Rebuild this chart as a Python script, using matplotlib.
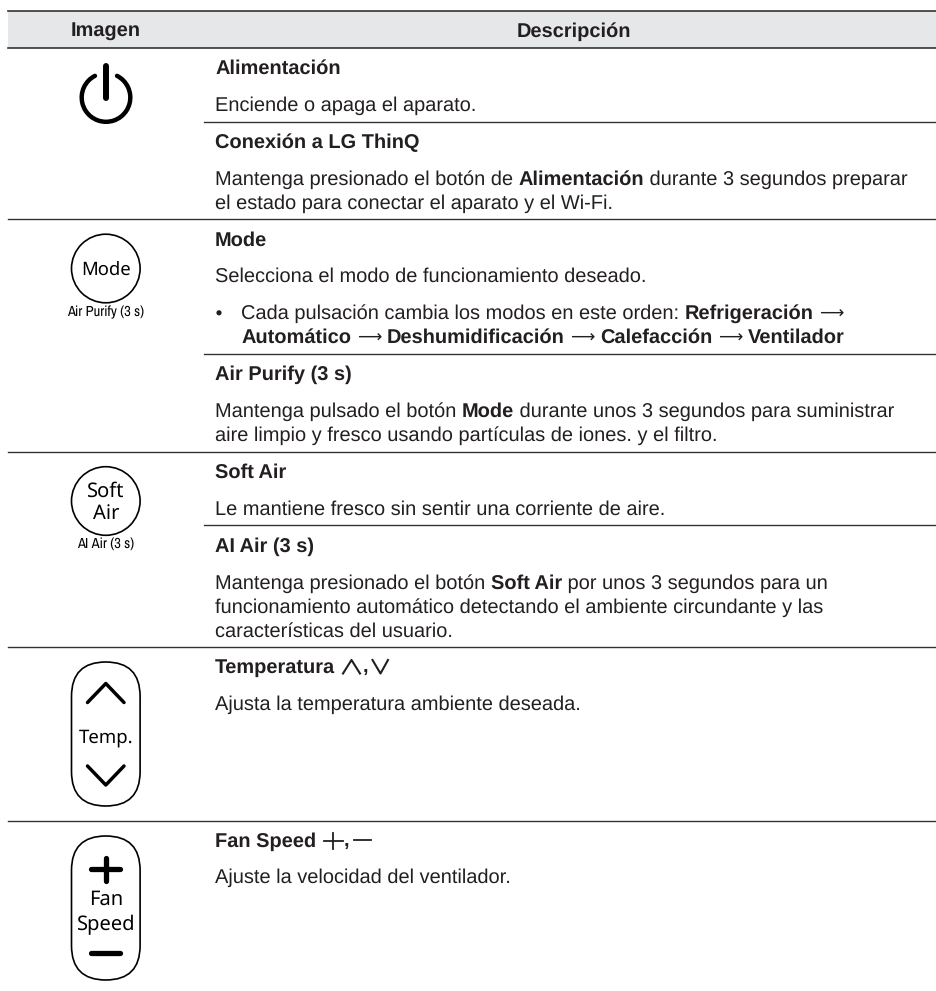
import numpy as np
import matplotlib
matplotlib.use("Agg")
import matplotlib.pyplot as plt
from matplotlib.patches import Arc, Circle, FancyBboxPatch, Rectangle

plt.rcParams["text.hinting"] = "none"
plt.rcParams["text.hinting_factor"] = 1

INK = "#231f20"
RULE = "#333333"
BODY = ["Liberation Sans", "DejaVu Sans"]
ICON = ["Noto Sans", "DejaVu Sans"]
NARROW = ["Archivo Narrow", "Roboto"]
ARROW = "\u27f6"
BODY_SIZE = 14.6

header_labels = ["Imagen", "Descripción"]
header_centers = [105.5, 574]

# baseline y, then (text, bold) runs
plain_lines = [
    (74, [("Alimentación", True)]),
    (111, [("Enciende o apaga el aparato.", False)]),
    (148, [("Conexión a LG ThinQ", True)]),
    (185, [("Mantenga presionado el botón de ", False), ("Alimentación", True), (" durante 3 segundos preparar", False)]),
    (209, [("el estado para conectar el aparato y el Wi-Fi.", False)]),
    (246, [("Mode", True)]),
    (282, [("Selecciona el modo de funcionamiento deseado.", False)]),
    (380, [("Air Purify (3 s)", True)]),
    (417, [("Mantenga pulsado el botón ", False), ("Mode", True), (" durante unos 3 segundos para suministrar", False)]),
    (441, [("aire limpio y fresco usando partículas de iones. y el filtro.", False)]),
    (478, [("Soft Air", True)]),
    (515, [("Le mantiene fresco sin sentir una corriente de aire.", False)]),
    (552, [("AI Air (3 s)", True)]),
    (589, [("Mantenga presionado el botón ", False), ("Soft Air", True), (" por unos 3 segundos para un", False)]),
    (613, [("funcionamiento automático detectando el ambiente circundante y las", False)]),
    (637, [("características del usuario.", False)]),
    (673, [("Temperatura", True)]),
    (710, [("Ajusta la temperatura ambiente deseada.", False)]),
    (847, [("Fan Speed", True)]),
    (883, [("Ajuste la velocidad del ventilador.", False)]),
]
bullet_lines = [
    (319, [("Cada pulsación cambia los modos en este orden: ", False), ("Refrigeración", True), (" ", True), (ARROW, None)]),
    (343, [("Automático", True), (" ", True), (ARROW, None), (" ", True), ("Deshumidificación", True), (" ", True), (ARROW, None), (" ", True),
           ("Calefacción", True), (" ", True), (ARROW, None), (" ", True), ("Ventilador", True)]),
]

full_rules = [219, 452, 647, 820.5]
partial_rules = [122, 354, 525]

circle_buttons = [(268.5, ["Mode"], [275], 13.3, "Air Purify (3 s)", 312),
                  (501, ["Soft", "Air"], [497, 519], 14.5, "AI Air (3 s)", 545)]

fig = plt.figure(figsize=(9.36, 9.91), dpi=100)
ax = fig.add_axes([0, 0, 1, 1])
ax.set_xlim(0, 936)
ax.set_ylim(991, 0)
ax.axis("off")


def text_width(s, **kw):
    # bracket with x so leading and trailing spaces get counted
    r = fig.canvas.get_renderer()
    a = ax.text(0, 0, "x" + s + "x", **kw)
    b = ax.text(0, 0, "xx", **kw)
    w = a.get_window_extent(r).width - b.get_window_extent(r).width
    a.remove()
    b.remove()
    return w


def draw_runs(x, y, runs):
    for s, bold in runs:
        if bold is None:
            kw = dict(family=["DejaVu Sans"], fontsize=12, color=INK)
        else:
            kw = dict(family=BODY, fontsize=BODY_SIZE, color=INK, fontweight="bold" if bold else "normal")
        ax.text(x, y, s, ha="left", va="baseline", **kw)
        x += text_width(s, **kw)


# table header and rules
ax.add_patch(Rectangle((7.5, 11), 928.5, 36.5, fc="#e6e7e8", ec="none"))
ax.plot([7.5, 936], [11, 11], color=RULE, lw=1.2)
ax.plot([7.5, 936], [47.5, 47.5], color=RULE, lw=1.2)
for y in full_rules:
    ax.plot([7.5, 936], [y, y], color=RULE, lw=1.0)
for y in partial_rules:
    ax.plot([204, 936], [y, y], color=RULE, lw=1.0)
for label, xc in zip(header_labels, header_centers):
    ax.text(xc, 36.5, label, ha="center", va="baseline", family=BODY, fontsize=BODY_SIZE, fontweight="bold", color=INK)

for y, runs in plain_lines:
    draw_runs(215, y, runs)
for y, runs in bullet_lines:
    draw_runs(241, y, runs)
ax.add_patch(Circle((219, bullet_lines[0][0] - 6.2), 2.6, fc=INK, ec="none"))

# inline symbols in the two headings
for xc, y in [(362.5, 673), (343.5, 847)]:
    ax.text(xc, y, ",", ha="left", va="baseline", family=BODY, fontsize=BODY_SIZE, fontweight="bold", color=INK)
ax.plot([343, 351.5, 360], [673.5, 660, 673.5], color=INK, lw=1.5)
ax.plot([372.5, 380.5, 388], [660, 673.5, 660], color=INK, lw=1.5)
ax.plot([323.5, 343], [840.5, 840.5], color=INK, lw=1.3)
ax.plot([333, 333], [832.5, 848.5], color=INK, lw=1.3)
ax.plot([353.5, 371], [840, 840], color=INK, lw=1.3)

# power icon
ax.add_patch(Arc((106, 97.5), 48.6, 48.6, theta1=-63, theta2=243, color="black", lw=3.2, capstyle="round"))
ax.plot([106, 106], [66, 97.5], color="black", lw=4.3, solid_capstyle="round")

# round buttons
for yc, words, bases, size, caption, cap_y in circle_buttons:
    ax.add_patch(Circle((105.8, yc), 34.3, fc="none", ec="black", lw=1.2))
    for w, b in zip(words, bases):
        ax.text(105.8, b, w, ha="center", va="baseline", family=ICON, fontsize=size, color="black")
    ax.text(105.8, cap_y, caption, ha="center", va="center", family=NARROW, fontsize=10.5, color="black")

# pills
for top, bottom in [(662, 806), (836, 980)]:
    ax.add_patch(FancyBboxPatch((71.5, top), 68.6, bottom - top,
                                boxstyle="round,pad=0,rounding_size=34.3", fc="none", ec="black", lw=1.2))

ax.plot([87.5, 105.8, 124], [702.5, 683.5, 702.5], color="black", lw=2.5, solid_capstyle="round", solid_joinstyle="round")
ax.plot([87.5, 105.8, 124], [766, 785, 766], color="black", lw=2.5, solid_capstyle="round", solid_joinstyle="round")
ax.text(105.8, 743, "Temp.", ha="center", va="baseline", family=ICON, fontsize=13.4, color="black")

ax.plot([91, 120], [869, 869], color="black", lw=3.8, solid_capstyle="round")
ax.plot([105.8, 105.8], [857.5, 880.5], color="black", lw=3.8, solid_capstyle="round")
ax.plot([91, 120], [952.7, 952.7], color="black", lw=3.8, solid_capstyle="round")
ax.text(105.8, 905, "Fan", ha="center", va="baseline", family=ICON, fontsize=14.5, color="black")
ax.text(105.8, 930, "Speed", ha="center", va="baseline", family=ICON, fontsize=14.5, color="black")

fig.savefig("out.png", dpi=100)
